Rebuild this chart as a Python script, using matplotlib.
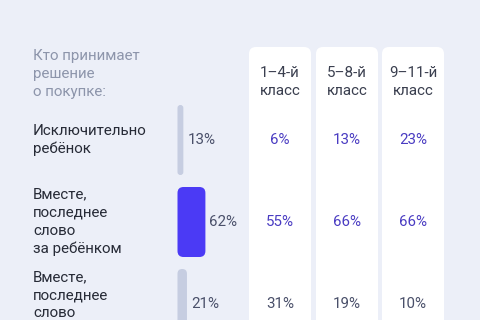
import matplotlib.pyplot as plt
from matplotlib.patches import FancyBboxPatch

plt.rcParams['font.family'] = ['Roboto', 'DejaVu Sans']

question = 'Кто принимает\nрешение\nо покупке:'
# the last label continues below the visible crop, only its first lines are shown
rows = ['Исключительно\nребёнок',
        'Вместе,\nпоследнее\nслово\nза ребёнком',
        'Вместе,\nпоследнее\nслово']
total = [13, 62, 21]
grades = ['1–4-й\nкласс', '5–8-й\nкласс', '9–11-й\nкласс']
grade_1_4 = [6, 55, 31]
grade_5_8 = [13, 66, 19]
grade_9_11 = [23, 66, 10]

bg = '#eceff8'
bar_grey = '#c6cde1'
bar_hi = '#4b3af5'
purple_txt = '#4a3cc2'
grey_txt = '#8d95ab'
dark_txt = '#272b37'
val_grey = '#4a506a'

fig = plt.figure(figsize=(4.8, 3.2), dpi=100, facecolor=bg)
ax = fig.add_axes([0, 0, 1, 1])
ax.set_xlim(0, 480)
ax.set_ylim(320, 0)
ax.axis('off')
ax.set_facecolor(bg)

fs = 10.9
ls = 1.36
line_h = 18
row_y = [140, 222, 304]
label_lines = [2, 4, 4]
bar_h = 70
bar_x = 177.5
scale = 0.45
card_x = [249, 316, 382]
card_w = 62

# white cards for grade columns
for cx in card_x:
    ax.add_patch(FancyBboxPatch((cx, 47), card_w, 320, boxstyle='round,pad=0,rounding_size=7',
                                fc='white', ec='none'))

ax.text(33, 74, question, color=grey_txt, fontsize=fs, ha='left', va='center', linespacing=ls)

for cx, g in zip(card_x, grades):
    ax.text(cx + card_w / 2, 82, g, color='#3a3f4f', fontsize=fs, ha='center', va='center',
            linespacing=ls)

hi = total.index(max(total))
for i, (label, v, y, n) in enumerate(zip(rows, total, row_y, label_lines)):
    shown = label.count('\n') + 1
    ax.text(33, y - (n - shown) * line_h / 2, label, color=dark_txt, fontsize=fs,
            ha='left', va='center', linespacing=ls)
    w = v * scale
    ax.add_patch(FancyBboxPatch((bar_x, y - bar_h / 2), w, bar_h,
                                boxstyle='round,pad=0,rounding_size=%.1f' % min(w / 2, 6),
                                fc=bar_hi if i == hi else bar_grey, ec='none'))
    ax.text(bar_x + w + 4, y, f'{v}%', color=val_grey, fontsize=fs, ha='left', va='center')

value_colors = [purple_txt, purple_txt, val_grey]
for cx, vals in zip(card_x, [grade_1_4, grade_5_8, grade_9_11]):
    for v, y, c in zip(vals, row_y, value_colors):
        ax.text(cx + card_w / 2, y, f'{v}%', color=c, fontsize=fs, ha='center', va='center')

fig.savefig('out.png', dpi=100, facecolor=bg)
